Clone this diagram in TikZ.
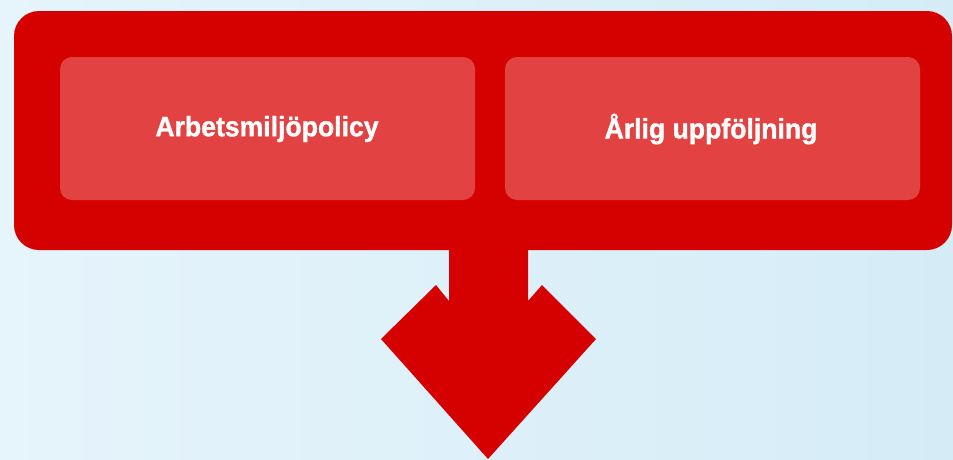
\documentclass[tikz,border=0pt]{standalone}
\usepackage{fontspec}
\newfontfamily\boxfont[FakeStretch=0.95,FakeBold=1.2]{Liberation Sans Bold}
\definecolor{outerred}{RGB}{213,0,0}
\definecolor{innerred}{RGB}{227,66,66}
\definecolor{bgleft}{RGB}{230,244,251}
\definecolor{bgright}{RGB}{213,236,247}
\begin{document}
\begin{tikzpicture}[x=1pt,y=-1pt,
  outerbox/.style={fill=outerred, rounded corners=25pt},
  innerbox/.style={fill=innerred, rounded corners=12pt},
  lbl/.style={text=white, font=\boxfont\fontsize{28}{32}\selectfont}]
\shade[left color=bgleft, right color=bgright] (0,0) rectangle (953,459);
\useasboundingbox (0,0) rectangle (953,459);
% outer box
\fill[outerbox] (14,11) rectangle (952,250);
% inner boxes
\fill[innerbox] (60,57) rectangle (475,200);
\fill[innerbox] (505,57) rectangle (920,200);
\node[lbl] (policy) at (267,129) {Arbetsmiljöpolicy};
\node[lbl] (follow) at (711,129) {Årlig uppföljning};
% arrow
\coordinate (tip) at (488,459);
\fill[outerred] (449,249) -- (449,301) -- (436,285) -- (381,339) -- (tip)
  -- (596,339) -- (542,285) -- (528,301) -- (528,249) -- cycle;
\end{tikzpicture}
\end{document}
